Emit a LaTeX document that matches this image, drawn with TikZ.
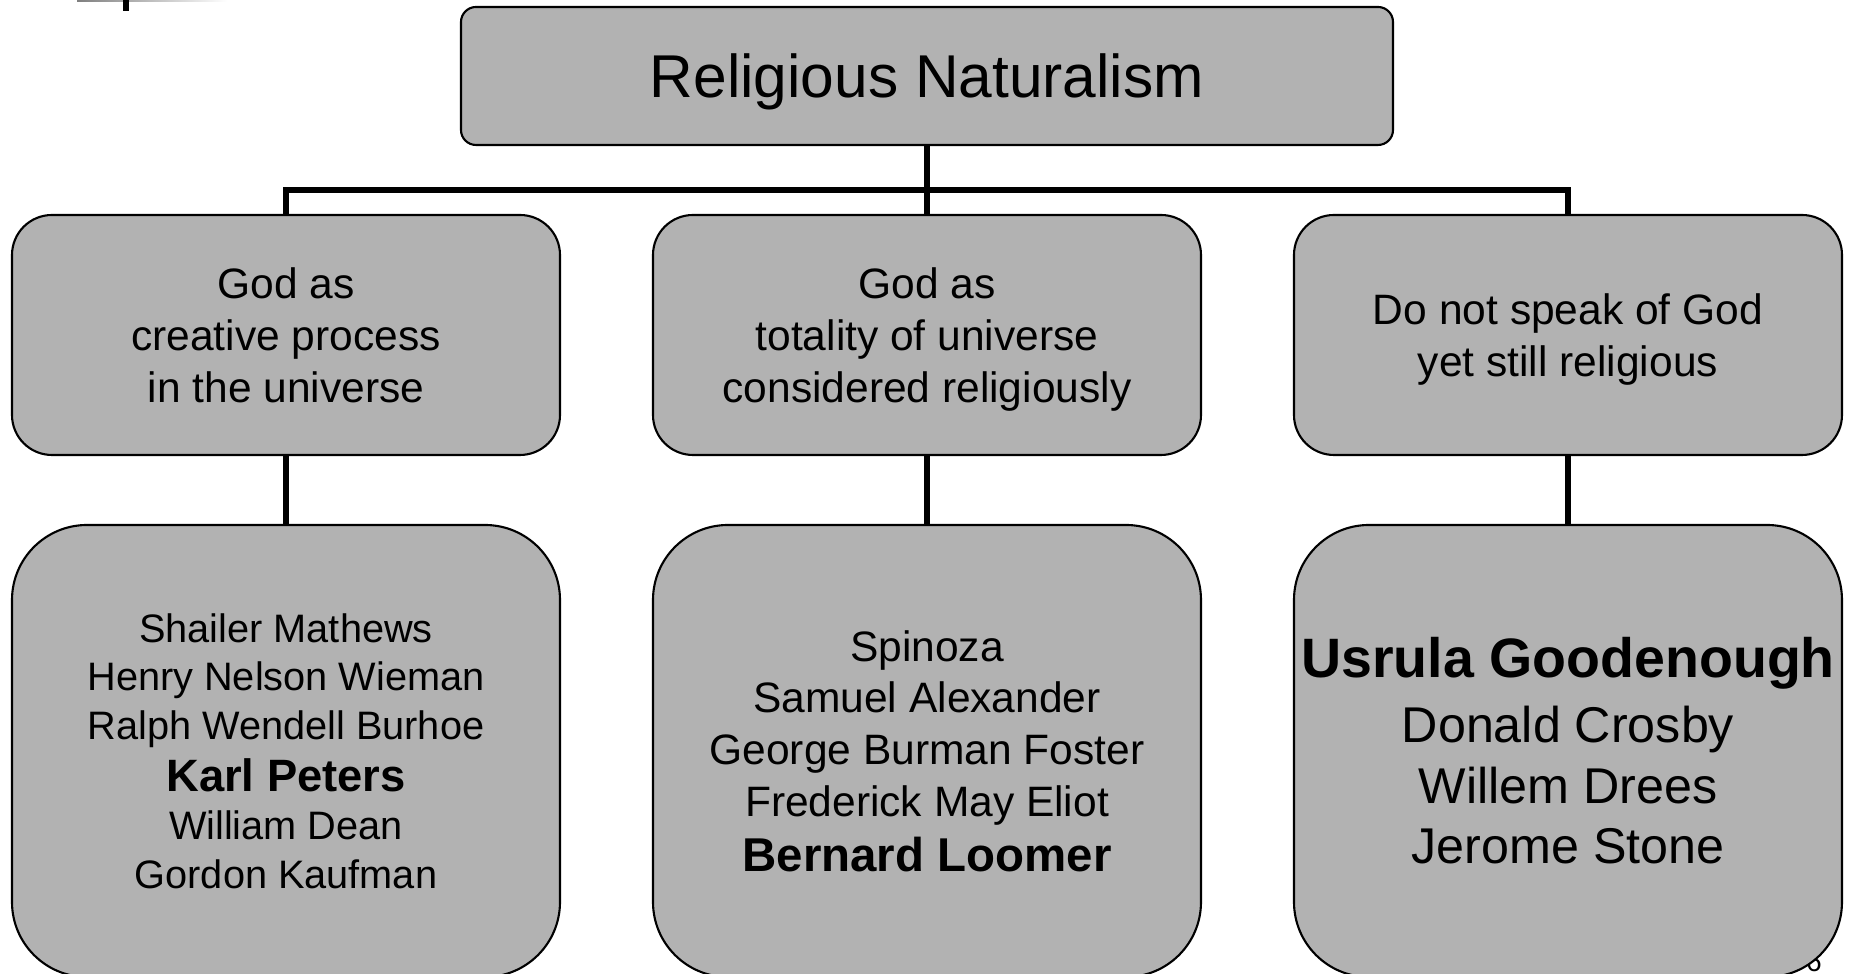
\documentclass[tikz,border=0pt]{standalone}
\usepackage{fontspec}
\setmainfont{Liberation Sans}
\definecolor{boxgray}{RGB}{178,178,178}
\tikzset{
  rootbox/.style={draw, fill=boxgray, line width=0.6pt, rounded corners=0.15cm,
    minimum width=9.32cm, minimum height=1.38cm, text depth=0pt,
    font=\fontsize{17.2}{20}\selectfont},
  catbox/.style={draw, fill=boxgray, line width=0.6pt, rounded corners=0.4cm,
    minimum width=5.48cm, minimum height=2.40cm, align=center, text depth=0pt,
    font=\fontsize{12.1}{14.8}\selectfont},
  listbox/.style={draw, fill=boxgray, line width=0.6pt, rounded corners=0.75cm,
    minimum width=5.48cm, minimum height=4.52cm, align=center, inner sep=1pt},
  conn/.style={line width=1.5pt}
}

\begin{document}
\begin{tikzpicture}
\useasboundingbox (0,0) rectangle (18.49,-9.74);
\clip (0,0) rectangle (18.49,-9.74);

% bits of the slide behind the chart
\shade[left color=gray, right color=white] (0.77,0) rectangle (2.27,-0.02);
\fill[black] (1.23,0) rectangle (1.29,-0.11);
\node[anchor=base, font=\fontsize{8}{9}\selectfont] (page) at (18.14,-9.72) {6};

% top
\node[rootbox] (root) at (9.27,-0.76) {Religious Naturalism};

% three ways
\node[catbox] (cat1) at (2.86,-3.35) {God as\\creative process\\in the universe};
\node[catbox] (cat2) at (9.27,-3.35) {God as\\totality of universe\\considered religiously};
\node[catbox] (cat3) at (15.68,-3.35) {Do not speak of God\\yet still religious};

% names
\node[listbox, font=\fontsize{11.3}{13.8}\selectfont] (names1) at (2.86,-7.51)
  {Shailer Mathews\\Henry Nelson Wieman\\Ralph Wendell Burhoe\\[1pt]
   {\fontsize{12.9}{15}\selectfont\bfseries Karl Peters}\\William Dean\\Gordon Kaufman};
\node[listbox, font=\fontsize{12.1}{14.7}\selectfont] (names2) at (9.27,-7.51)
  {Spinoza\\Samuel Alexander\\George Burman Foster\\Frederick May Eliot\\[1pt]
   {\fontsize{13.5}{15.5}\selectfont\bfseries Bernard Loomer}};
\node[listbox, font=\fontsize{14.3}{17.3}\selectfont] (names3) at (15.68,-7.51)
  {{\fontsize{15.8}{18}\selectfont\bfseries Usrula Goodenough}\\[1pt]Donald Crosby\\Willem Drees\\Jerome Stone};

% connectors
\coordinate (bus) at (9.27,-1.90);
\draw[conn] (root.south) -- (cat2.north);
\draw[conn] (cat1.north) |- (bus) -| (cat3.north);
\draw[conn] (cat1.south) -- (names1.north);
\draw[conn] (cat2.south) -- (names2.north);
\draw[conn] (cat3.south) -- (names3.north);
\end{tikzpicture}
\end{document}
